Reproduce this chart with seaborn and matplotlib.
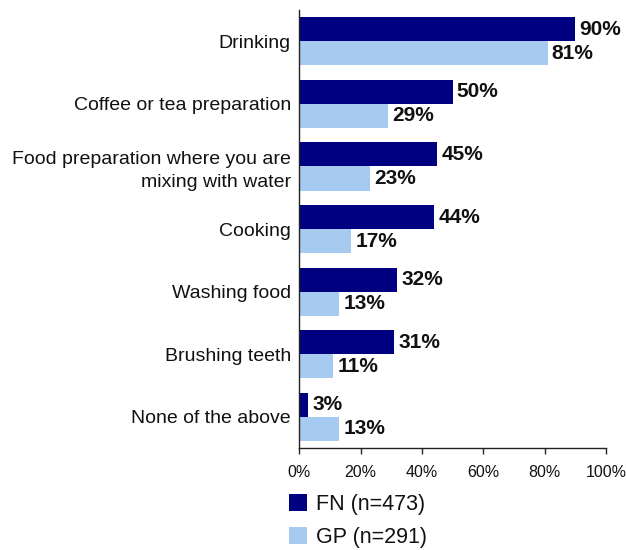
import matplotlib
matplotlib.use("Agg")
import matplotlib.pyplot as plt
import seaborn as sns
import pandas as pd
from matplotlib.patches import Patch

categories = [
    "Drinking",
    "Coffee or tea preparation",
    "Food preparation where you are\nmixing with water",
    "Cooking",
    "Washing food",
    "Brushing teeth",
    "None of the above",
]
fn_values = [90, 50, 45, 44, 32, 31, 3]
gp_values = [81, 29, 23, 17, 13, 11, 13]
series_names = ["FN (n=473)", "GP (n=291)"]
colors = ["#000080", "#A6CAF0"]
xticks = [0, 20, 40, 60, 80, 100]

df = pd.DataFrame({
    "category": categories * 2,
    "value": fn_values + gp_values,
    "group": [series_names[0]] * len(categories) + [series_names[1]] * len(categories),
})

sns.set_style("white")
plt.rcParams["font.family"] = ["Liberation Sans", "DejaVu Sans"]

fig = plt.figure(figsize=(6.26, 5.5), dpi=100)
ax = fig.add_axes([0.478, 0.185, 0.49, 0.797])

sns.barplot(data=df, x="value", y="category", hue="group", order=categories,
            hue_order=series_names, palette=colors, orient="h", width=0.77,
            saturation=1, linewidth=0, edgecolor="none", ax=ax, legend=False)

for container in ax.containers:
    ax.bar_label(container, labels=[f"{v:.0f}%" for v in container.datavalues],
                 padding=3, fontsize=15, fontweight="bold", color="#111111")

ax.set_xlim(0, 100)
ax.set_ylim(len(categories) - 0.5, -0.5)
ax.set_xticks(xticks)
ax.set_xticklabels([f"{t}%" for t in xticks], fontsize=11.5, color="#111111")
ax.tick_params(axis="y", labelsize=14, length=0, pad=6, labelcolor="#111111")
for lbl in ax.get_yticklabels():
    lbl.set_linespacing(1.45)
ax.tick_params(axis="x", length=4, width=1, direction="out", pad=8, bottom=True)
ax.set_xlabel("")
ax.set_ylabel("")
for s in ["top", "right"]:
    ax.spines[s].set_visible(False)
for s in ["left", "bottom"]:
    ax.spines[s].set_color("#222222")
    ax.spines[s].set_linewidth(1)

handles = [Patch(facecolor=c, edgecolor="none") for c in colors]
fig.legend(handles, series_names, loc="upper left", bbox_to_anchor=(0.448, 0.117),
           frameon=False, fontsize=15.5, handlelength=0.85, handleheight=0.85,
           handletextpad=0.4, labelspacing=0.55, borderaxespad=0,
           labelcolor="#111111")

fig.savefig("out.png", dpi=100)
